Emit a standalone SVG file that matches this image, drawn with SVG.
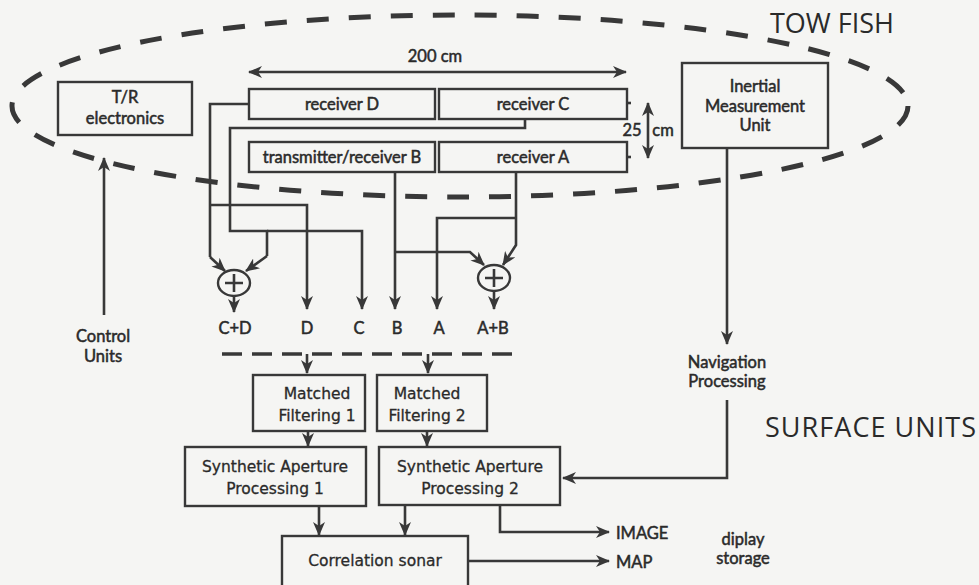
<svg xmlns="http://www.w3.org/2000/svg" width="979" height="585" viewBox="0 0 979 585">
<defs>
<style>
.bg{fill:#f5f5f3}
.box{fill:none;stroke:#383838;stroke-width:2.4}
.ln{fill:none;stroke:#383838;stroke-width:2.6}
.ar{fill:none;stroke:#383838;stroke-width:2.6;marker-end:url(#ah)}
.t{font-family:Lato,"Liberation Sans",sans-serif;fill:#2a2a2a;stroke:#2a2a2a;stroke-width:0.5;font-size:16.5px;text-anchor:middle}
.s{font-family:"DejaVu Sans","Liberation Sans",sans-serif;fill:#2a2a2a;stroke:#2a2a2a;stroke-width:0.3;font-size:15.5px;text-anchor:middle}
.big{font-family:"Open Sans","Liberation Sans",sans-serif;fill:#2a2a2a;font-size:27px}
.l{text-anchor:start}
</style>
<marker id="ah" viewBox="0 0 14 12" refX="13" refY="6" markerWidth="14" markerHeight="12" orient="auto-start-reverse" markerUnits="userSpaceOnUse">
<path d="M0,0 L14,6 L0,12 L4,6 z" fill="#383838"/>
</marker>
</defs>
<rect class="bg" x="0" y="0" width="979" height="585"/>

<g id="towfish-boundary">
<ellipse cx="460" cy="106" rx="448" ry="91" fill="none" stroke="#383838" stroke-width="5" stroke-dasharray="22 20"/>
<text class="big" x="770" y="33">TOW FISH</text>
</g>
<g id="surface-boundary">
<line x1="222" y1="354" x2="512" y2="354" stroke="#383838" stroke-width="3.5" stroke-dasharray="20 10"/>
<text class="big" x="765" y="437" textLength="211">SURFACE UNITS</text>
</g>

<g id="tr-electronics">
<rect class="box" x="58" y="82" width="134" height="53"/>
<text class="t" x="125" y="103" font-size="17.5">T/R</text>
<text class="t" x="125" y="124" font-size="17.5">electronics</text>
</g>
<g id="receiver-d">
<rect class="box" x="249" y="89" width="186" height="30"/>
<text class="t" x="342" y="110">receiver  D</text>
</g>
<g id="receiver-c">
<rect class="box" x="439" y="89" width="188" height="30"/>
<text class="t" x="533" y="110">receiver  C</text>
<line class="ln" x1="627" y1="103" x2="631" y2="103"/>
</g>
<g id="transmitter-receiver-b">
<rect class="box" x="249" y="142" width="186" height="30"/>
<text class="t" x="342" y="163">transmitter/receiver  B</text>
</g>
<g id="receiver-a">
<rect class="box" x="439" y="142" width="188" height="30"/>
<text class="t" x="533" y="163">receiver  A</text>
<line class="ln" x1="627" y1="157" x2="631" y2="157"/>
</g>
<g id="imu">
<rect class="box" x="682" y="63" width="146" height="85"/>
<text class="t" x="755" y="92" font-size="16">Inertial</text>
<text class="t" x="755" y="111.5" font-size="16">Measurement</text>
<text class="t" x="755" y="131" font-size="16">Unit</text>
</g>
<g id="dimensions">
<line class="ln" x1="249" y1="72" x2="626" y2="72" marker-start="url(#ah)" marker-end="url(#ah)"/>
<text class="t" x="435" y="62">200  cm</text>
<line class="ln" x1="648" y1="103" x2="648" y2="158" marker-start="url(#ah)" marker-end="url(#ah)"/>
<text class="t" x="632" y="136">25</text>
<text class="t" x="663" y="136">cm</text>
</g>

<g id="sum-cd">
<ellipse cx="234" cy="283" rx="16" ry="13" fill="none" stroke="#383838" stroke-width="2.4"/>
<path class="ln" d="M234,274 V292 M225,283 H243" stroke-width="2.2"/>
</g>
<g id="sum-ab">
<ellipse cx="494" cy="278" rx="16" ry="13" fill="none" stroke="#383838" stroke-width="2.4"/>
<path class="ln" d="M494,269 V287 M485,278 H503" stroke-width="2.2"/>
</g>

<g id="labels">
<text class="t" x="235" y="334" font-size="18.5">C+D</text>
<text class="t" x="307" y="334" font-size="18.5">D</text>
<text class="t" x="359" y="334" font-size="18.5">C</text>
<text class="t" x="397" y="334" font-size="18.5">B</text>
<text class="t" x="439" y="334" font-size="18.5">A</text>
<text class="t" x="493" y="334" font-size="18.5">A+B</text>
<text class="t" x="103" y="342">Control</text>
<text class="t" x="103" y="362">Units</text>
<text class="t" x="727" y="368" font-size="15.5">Navigation</text>
<text class="t" x="727" y="386.5" font-size="15.5">Processing</text>
<text class="t" x="743" y="545" font-size="15.5">diplay</text>
<text class="t" x="743" y="563.5" font-size="15.5">storage</text>
<text class="t l" x="616" y="539" font-size="18.5">IMAGE</text>
<text class="t l" x="616" y="568" font-size="18.5">MAP</text>
</g>

<g id="matched-filtering-1">
<rect class="box" x="253" y="375" width="112" height="56"/>
<text class="s" x="317" y="399">Matched</text>
<text class="s" x="317" y="421">Filtering 1</text>
</g>
<g id="matched-filtering-2">
<rect class="box" x="377" y="375" width="110" height="56"/>
<text class="s" x="427" y="399">Matched</text>
<text class="s" x="427" y="421">Filtering 2</text>
</g>
<g id="sap-1">
<rect class="box" x="185" y="447" width="181" height="59"/>
<text class="s" x="275" y="472">Synthetic Aperture</text>
<text class="s" x="275" y="494">Processing 1</text>
</g>
<g id="sap-2">
<rect class="box" x="379" y="447" width="181" height="58"/>
<text class="s" x="470" y="472">Synthetic Aperture</text>
<text class="s" x="470" y="494">Processing 2</text>
</g>
<g id="correlation-sonar">
<rect class="box" x="282" y="536" width="186" height="70"/>
<text class="s" x="375" y="566">Correlation sonar</text>
</g>

<g id="connectors">
<path class="ln" d="M249,104 H210 V257"/>
<path class="ar" d="M210,257 L225,271"/>
<path class="ar" d="M210,205 H307 V309"/>
<path class="ln" d="M525,119 V128 H230 V231 H267 V256"/>
<path class="ar" d="M267,256 L246,271"/>
<path class="ar" d="M267,231 H362 V309"/>
<path class="ar" d="M395,172 V309"/>
<path class="ar" d="M395,252 H470 L484,265"/>
<path class="ar" d="M516,172 V245 L503,265"/>
<path class="ar" d="M516,218 H437 V309"/>
<path class="ar" d="M234,296 V312"/>
<path class="ar" d="M494,291 V309"/>
<path class="ar" d="M104,315 V158"/>
<path class="ar" d="M727,148 V344"/>
<path class="ar" d="M727,400 V478 H563"/>
<path class="ar" d="M307,354 V373"/>
<path class="ar" d="M428,354 V373"/>
<path class="ar" d="M308,431 V446"/>
<path class="ar" d="M427,431 V446"/>
<path class="ar" d="M319,506 V535"/>
<path class="ar" d="M405,505 V535"/>
<path class="ar" d="M500,505 V532 H609"/>
<path class="ar" d="M468,561 H609"/>
</g>
</svg>
